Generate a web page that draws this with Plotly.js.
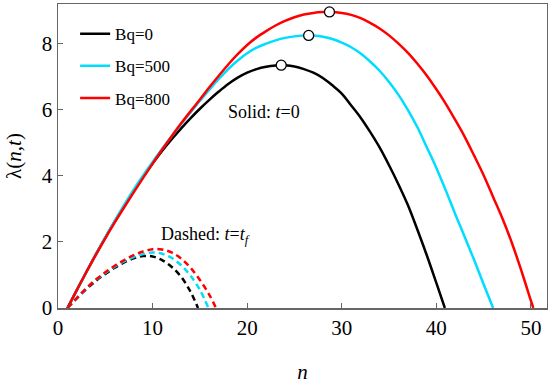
<!DOCTYPE html>
<html><head><meta charset="utf-8">
<script src="https://cdn.plot.ly/plotly-3.0.1.min.js"></script>
</head><body style="margin:0">
<div id="chart" style="width:548px;height:386px"></div>
<script>
// Solid curves (t = 0)
const n0 = [1,2,3,4,5,6,7,8,9,10,11,12,13,14,15,16,17,18,19,20,21,22,23,23.6,24,25,26,27,28,29,30,31,32,33,34,35,36,37,38,39,40,40.9];
const y0 = [0,0.55,1.09,1.62,2.13,2.62,3.09,3.54,3.97,4.37,4.75,5.1,5.43,5.74,6.03,6.3,6.55,6.78,6.97,7.12,7.23,7.3,7.34,7.35,7.347,7.31,7.23,7.12,6.96,6.74,6.49,6.13,5.76,5.33,4.86,4.32,3.74,3.11,2.37,1.59,0.76,0];
const n500 = [1,2,3,4,5,6,7,8,9,10,11,12,13,14,15,16,17,18,19,20,21,22,23,24,25,26,26.5,27,28,29,30,31,32,33,34,35,36,37,38,39,40,41,42,43,44,45,46];
const y500 = [0,0.55,1.09,1.62,2.14,2.64,3.12,3.58,4.01,4.42,4.81,5.19,5.56,5.92,6.27,6.61,6.93,7.23,7.49,7.71,7.88,8.0,8.1,8.175,8.22,8.245,8.25,8.245,8.21,8.14,8.03,7.89,7.7,7.46,7.18,6.84,6.45,5.99,5.47,4.86,4.24,3.56,2.84,2.15,1.45,0.72,0];
const n800 = [1,2,3,4,5,6,7,8,9,10,11,12,13,14,15,16,17,18,19,20,21,22,23,24,25,26,27,28,28.7,30,31,32,33,34,35,36,37,38,39,40,41,42,43,44,45,46,47,48,49,50,50.25];
const y800 = [0,0.55,1.09,1.61,2.11,2.59,3.05,3.5,3.94,4.37,4.79,5.19,5.58,5.95,6.31,6.68,7.03,7.37,7.68,7.96,8.19,8.38,8.55,8.69,8.8,8.88,8.93,8.955,8.96,8.93,8.87,8.77,8.63,8.46,8.25,8.0,7.72,7.39,7.03,6.62,6.18,5.69,5.18,4.61,4.02,3.36,2.7,1.96,1.12,0.22,0];
// Dashed curves (t = t_f)
const nd0 = [1,2,3,4,5,6,7,8,9,10,11,12,13,14,14.8];
const yd0 = [0,0.3,0.57,0.82,1.03,1.22,1.38,1.5,1.57,1.56,1.45,1.25,0.95,0.5,0];
const nd500 = [1,2,3,4,5,6,7,8,9,10,11,12,13,14,15,15.9];
const yd500 = [0,0.3,0.59,0.85,1.06,1.25,1.41,1.54,1.63,1.68,1.64,1.52,1.3,0.98,0.55,0];
const nd800 = [1,2,3,4,5,6,7,8,9,10,11,12,13,14,15,16,16.7];
const yd800 = [0,0.3,0.6,0.86,1.08,1.28,1.45,1.6,1.71,1.78,1.77,1.68,1.5,1.22,0.85,0.4,0];
// Peak markers
const peakN = [23.6, 26.5, 28.7];
const peakY = [7.35, 8.25, 8.96];
const labels = ['Bq=0','Bq=500','Bq=800'];
const colors = ['#000000','#00DDFF','#FF0000'];

const solidN = [n0, n500, n800], solidY = [y0, y500, y800];
const dashN = [nd0, nd500, nd800], dashY = [yd0, yd500, yd800];
const traces = [];
for (let i = 0; i < 3; i++) {
  traces.push({x: solidN[i], y: solidY[i], mode: 'lines', name: labels[i], legendgroup: 'g'+i,
    line: {color: colors[i], width: 2.5, shape: 'spline', smoothing: 1}});
}
for (let i = 0; i < 3; i++) {
  traces.push({x: dashN[i], y: dashY[i], mode: 'lines', showlegend: false,
    line: {color: colors[i], width: 2.5, dash: '6px,4px', shape: 'spline', smoothing: 1}});
}
traces.push({x: peakN, y: peakY, mode: 'markers', showlegend: false,
  marker: {size: 10, color: '#ffffff', line: {color: '#000000', width: 1.3}}});

const layout = {
  width: 548, height: 386,
  margin: {l: 58, r: 1, t: 4, b: 78},
  font: {family: 'Liberation Serif', size: 20},
  showlegend: true,
  legend: {x: 0.035, y: 0.96, xanchor: 'left', yanchor: 'top', bgcolor: 'rgba(0,0,0,0)',
    borderwidth: 0, font: {family: 'Liberation Serif', size: 17, color: '#000000'},
    traceorder: 'grouped', tracegroupgap: 7},
  xaxis: {range: [0, 51.7], showgrid: false, zeroline: false, showline: true, mirror: true,
    linecolor: '#666666', linewidth: 1.5, ticks: 'inside', ticklen: 5, tickcolor: '#666666',
    tickvals: [0,10,20,30,40,50], tickfont: {family: 'Liberation Serif', size: 21, color: '#000000'},
    title: {text: '<i>n</i>', font: {family: 'Liberation Serif', size: 21, color: '#000000'}, standoff: 25}},
  yaxis: {range: [0, 9.2], showgrid: false, zeroline: false, showline: true, mirror: true,
    linecolor: '#666666', linewidth: 1.5, ticks: 'inside', ticklen: 5, tickcolor: '#666666',
    tickvals: [0,2,4,6,8], tickfont: {family: 'Liberation Serif', size: 21, color: '#000000'},
    title: {text: 'λ(<i>n</i>,<i>t</i>)', font: {family: 'Liberation Serif', size: 21, color: '#000000'}, standoff: 14}},
  annotations: [
    {x: 21.8, y: 5.94, xref: 'x', yref: 'y', text: 'Solid: <i>t</i>=0', showarrow: false,
      font: {family: 'Liberation Serif', size: 18, color: '#000000'}},
    {x: 15.6, y: 2.2, xref: 'x', yref: 'y', text: 'Dashed: <i>t</i>=<i>t</i><sub><i>f</i></sub>', showarrow: false,
      font: {family: 'Liberation Serif', size: 18, color: '#000000'}}
  ]
};
Plotly.newPlot('chart', traces, layout, {staticPlot: true});
</script></body></html>
